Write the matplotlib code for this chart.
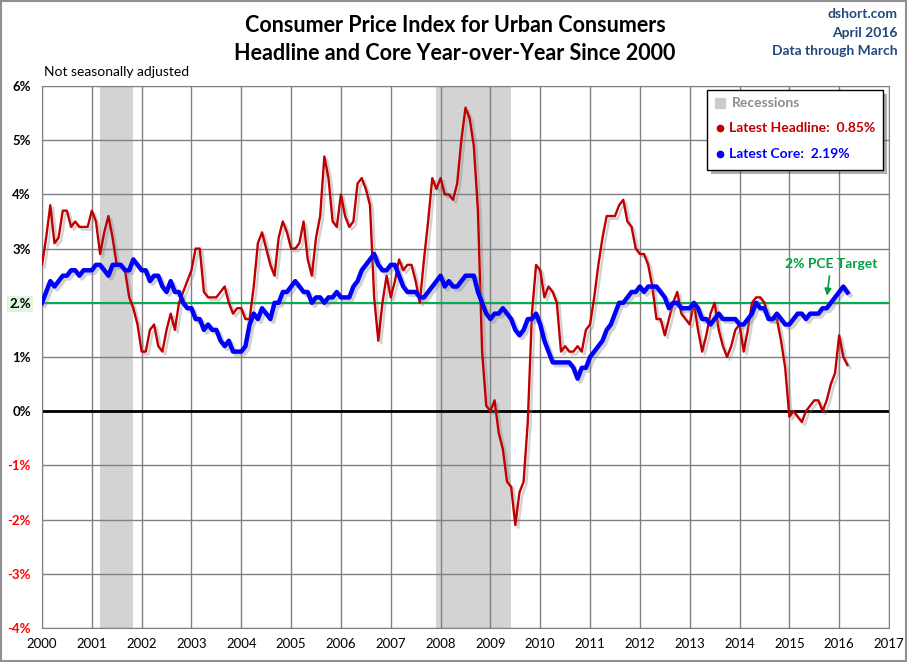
import matplotlib
matplotlib.use("Agg")
import matplotlib.pyplot as plt
import matplotlib.patheffects as pe
from matplotlib.patches import Rectangle
import numpy as np

plt.rcParams['font.family'] = ['Lato', 'DejaVu Sans']

# Monthly year-over-year % change, Jan 2000 - Mar 2016
headline = [
    2.7, 3.2, 3.8, 3.1, 3.2, 3.7, 3.7, 3.4, 3.5, 3.4, 3.4, 3.4,   # 2000
    3.7, 3.5, 2.9, 3.3, 3.6, 3.2, 2.7, 2.7, 2.6, 2.1, 1.9, 1.6,   # 2001
    1.1, 1.1, 1.5, 1.6, 1.2, 1.1, 1.5, 1.8, 1.5, 2.0, 2.2, 2.4,   # 2002
    2.6, 3.0, 3.0, 2.2, 2.1, 2.1, 2.1, 2.2, 2.3, 2.0, 1.8, 1.9,   # 2003
    1.9, 1.7, 1.7, 2.3, 3.1, 3.3, 3.0, 2.7, 2.5, 3.2, 3.5, 3.3,   # 2004
    3.0, 3.0, 3.1, 3.5, 2.8, 2.5, 3.2, 3.6, 4.7, 4.3, 3.5, 3.4,   # 2005
    4.0, 3.6, 3.4, 3.5, 4.2, 4.3, 4.1, 3.8, 2.1, 1.3, 2.0, 2.5,   # 2006
    2.1, 2.4, 2.8, 2.6, 2.7, 2.7, 2.4, 2.0, 2.8, 3.5, 4.3, 4.1,   # 2007
    4.3, 4.0, 4.0, 3.9, 4.2, 5.0, 5.6, 5.4, 4.9, 3.7, 1.1, 0.1,   # 2008
    0.0, 0.2, -0.4, -0.7, -1.3, -1.4, -2.1, -1.5, -1.3, -0.2, 1.8, 2.7,  # 2009
    2.6, 2.1, 2.3, 2.2, 2.0, 1.1, 1.2, 1.1, 1.1, 1.2, 1.1, 1.5,   # 2010
    1.6, 2.1, 2.7, 3.2, 3.6, 3.6, 3.6, 3.8, 3.9, 3.5, 3.4, 3.0,   # 2011
    2.9, 2.9, 2.7, 2.3, 1.7, 1.7, 1.4, 1.7, 2.0, 2.2, 1.8, 1.7,   # 2012
    1.6, 2.0, 1.5, 1.1, 1.4, 1.8, 2.0, 1.5, 1.2, 1.0, 1.2, 1.5,   # 2013
    1.6, 1.1, 1.5, 2.0, 2.1, 2.1, 2.0, 1.7, 1.7, 1.7, 1.3, 0.8,   # 2014
    -0.1, 0.0, -0.1, -0.2, 0.0, 0.1, 0.2, 0.2, 0.0, 0.2, 0.5, 0.7,  # 2015
    1.4, 1.0, 0.85,                                               # 2016
]
core = [
    2.0, 2.2, 2.4, 2.3, 2.4, 2.5, 2.5, 2.6, 2.6, 2.5, 2.6, 2.6,   # 2000
    2.6, 2.7, 2.7, 2.6, 2.5, 2.7, 2.7, 2.7, 2.6, 2.6, 2.8, 2.7,   # 2001
    2.6, 2.6, 2.4, 2.5, 2.5, 2.3, 2.2, 2.4, 2.2, 2.2, 2.0, 1.9,   # 2002
    1.9, 1.7, 1.7, 1.5, 1.6, 1.5, 1.5, 1.3, 1.2, 1.3, 1.1, 1.1,   # 2003
    1.1, 1.2, 1.6, 1.8, 1.7, 1.9, 1.8, 1.7, 2.0, 2.0, 2.2, 2.2,   # 2004
    2.3, 2.4, 2.3, 2.2, 2.2, 2.0, 2.1, 2.1, 2.0, 2.1, 2.1, 2.2,   # 2005
    2.1, 2.1, 2.1, 2.3, 2.4, 2.6, 2.7, 2.8, 2.9, 2.7, 2.6, 2.6,   # 2006
    2.7, 2.7, 2.5, 2.3, 2.2, 2.2, 2.2, 2.1, 2.1, 2.2, 2.3, 2.4,   # 2007
    2.5, 2.3, 2.4, 2.3, 2.3, 2.4, 2.5, 2.5, 2.5, 2.2, 2.0, 1.8,   # 2008
    1.7, 1.8, 1.8, 1.9, 1.8, 1.7, 1.5, 1.4, 1.5, 1.7, 1.7, 1.8,   # 2009
    1.6, 1.3, 1.1, 0.9, 0.9, 0.9, 0.9, 0.9, 0.8, 0.6, 0.8, 0.8,   # 2010
    1.0, 1.1, 1.2, 1.3, 1.5, 1.6, 1.8, 2.0, 2.0, 2.1, 2.2, 2.2,   # 2011
    2.3, 2.2, 2.3, 2.3, 2.3, 2.2, 2.1, 1.9, 2.0, 2.0, 1.9, 1.9,   # 2012
    1.9, 2.0, 1.9, 1.7, 1.7, 1.6, 1.7, 1.8, 1.7, 1.7, 1.7, 1.7,   # 2013
    1.6, 1.6, 1.7, 1.8, 2.0, 1.9, 1.9, 1.7, 1.7, 1.8, 1.7, 1.6,   # 2014
    1.6, 1.7, 1.8, 1.8, 1.7, 1.8, 1.8, 1.8, 1.9, 1.9, 2.0, 2.1,   # 2015
    2.2, 2.3, 2.19,                                               # 2016
]
start_year = 2000
recessions = [(2001 + 2/12, 2001 + 10/12), (2007 + 11/12, 2009 + 5/12)]
year_ticks = list(range(2000, 2018))
pct_ticks = list(range(-4, 7))
pct_labels = ['-4%', '-3%', '-2%', '-1%', '0%', '1%', '2.%', '3%', '4%', '5%', '6%']
target = 2.0

x = start_year + np.arange(len(headline)) / 12.0

fig = plt.figure(figsize=(9.08, 6.62), dpi=100)
fig.patches.append(Rectangle((0.001, 0.001), 0.997, 0.997, transform=fig.transFigure,
                             fill=False, edgecolor='#909090', lw=1.5))
ax = fig.add_axes([42/908, 1 - 628/662, 847/908, 542/662])
ax.set_xlim(2000, 2017)
ax.set_ylim(-4, 6)

for a, b in recessions:
    ax.axvspan(a, b, color='#D3D3D3', lw=0, zorder=0)

ax.set_xticks(year_ticks)
ax.set_yticks(pct_ticks)
ax.grid(True, color='#808080', lw=1, zorder=1)
ax.tick_params(length=0, pad=7)
ax.set_xticklabels([str(y) for y in year_ticks], fontsize=9.5)
ax.set_yticklabels(pct_labels, fontsize=9.5, fontweight='bold')
for lab, v in zip(ax.get_yticklabels(), pct_ticks):
    lab.set_color('#FF0000' if v < 0 else 'black')
    if v == 2:
        lab.set_bbox(dict(facecolor='#DDF5DD', edgecolor='none', pad=1.5))
for s in ax.spines.values():
    s.set_color('#808080')
ax.tick_params(axis='y', pad=8)

ax.axhline(0, color='black', lw=2, zorder=2)
ax.axhline(target, color='#00B050', lw=1.5, zorder=2)

shadow = [pe.SimpleLineShadow(offset=(2, -2), shadow_color='#808080', alpha=0.35), pe.Normal()]
ax.plot(x, headline, color='#C00000', lw=1.7, zorder=4, path_effects=shadow)
ax.plot(x, core, color='#0000FF', lw=3.2, zorder=5, path_effects=shadow,
        solid_joinstyle='round')

# PCE target annotation
ax.annotate('2% PCE Target', xy=(2015 + 9/12, 2.08), xytext=(2015 + 10/12, 2.6),
            ha='center', va='bottom', color='#00A040', fontsize=10, fontweight='bold',
            arrowprops=dict(arrowstyle='-|>', color='#00A040', lw=1.2, mutation_scale=10),
            zorder=6)

# Legend box
box = Rectangle((0.785, 0.845), 0.208, 0.148, transform=ax.transAxes, facecolor='white',
                edgecolor='black', lw=1, zorder=7,
                path_effects=[pe.SimplePatchShadow(offset=(3, -3), alpha=0.45), pe.Normal()])
ax.add_patch(box)
ax.plot([0.801], [0.969], marker='s', ms=6.5, color='#CCCCCC', transform=ax.transAxes,
        zorder=8, clip_on=False)
ax.text(0.815, 0.969, 'Recessions', transform=ax.transAxes, va='center', fontsize=10,
        fontweight='bold', color='#8C8C8C', zorder=8)
ax.plot([0.801], [0.922], marker='o', ms=4.5, color='#C00000', transform=ax.transAxes,
        zorder=8, clip_on=False)
ax.text(0.811, 0.922, 'Latest Headline:  0.85%', transform=ax.transAxes, va='center',
        fontsize=10, fontweight='bold', color='#C00000', zorder=8)
ax.plot([0.801], [0.875], marker='o', ms=4.5, color='#0000FF', transform=ax.transAxes,
        zorder=8, clip_on=False)
ax.text(0.811, 0.875, 'Latest Core:  2.19%', transform=ax.transAxes, va='center',
        fontsize=10, fontweight='bold', color='#0000FF', zorder=8)

# Titles
fig.text(455/908, 1 - 25/662, 'Consumer Price Index for Urban Consumers', ha='center',
         va='center', fontsize=15.5, fontweight='bold')
fig.text(455/908, 1 - 53/662, 'Headline and Core Year-over-Year Since 2000', ha='center',
         va='center', fontsize=15.5, fontweight='bold')
for t, yy in [('dshort.com', 14), ('April 2016', 33), ('Data through March', 51)]:
    fig.text(898/908, 1 - yy/662, t, ha='right', va='center', fontsize=10,
             fontweight='bold', color='#1F497D')
fig.text(44/908, 1 - 72/662, 'Not seasonally adjusted', ha='left', va='center', fontsize=10)

fig.savefig('out.png', dpi=100)
